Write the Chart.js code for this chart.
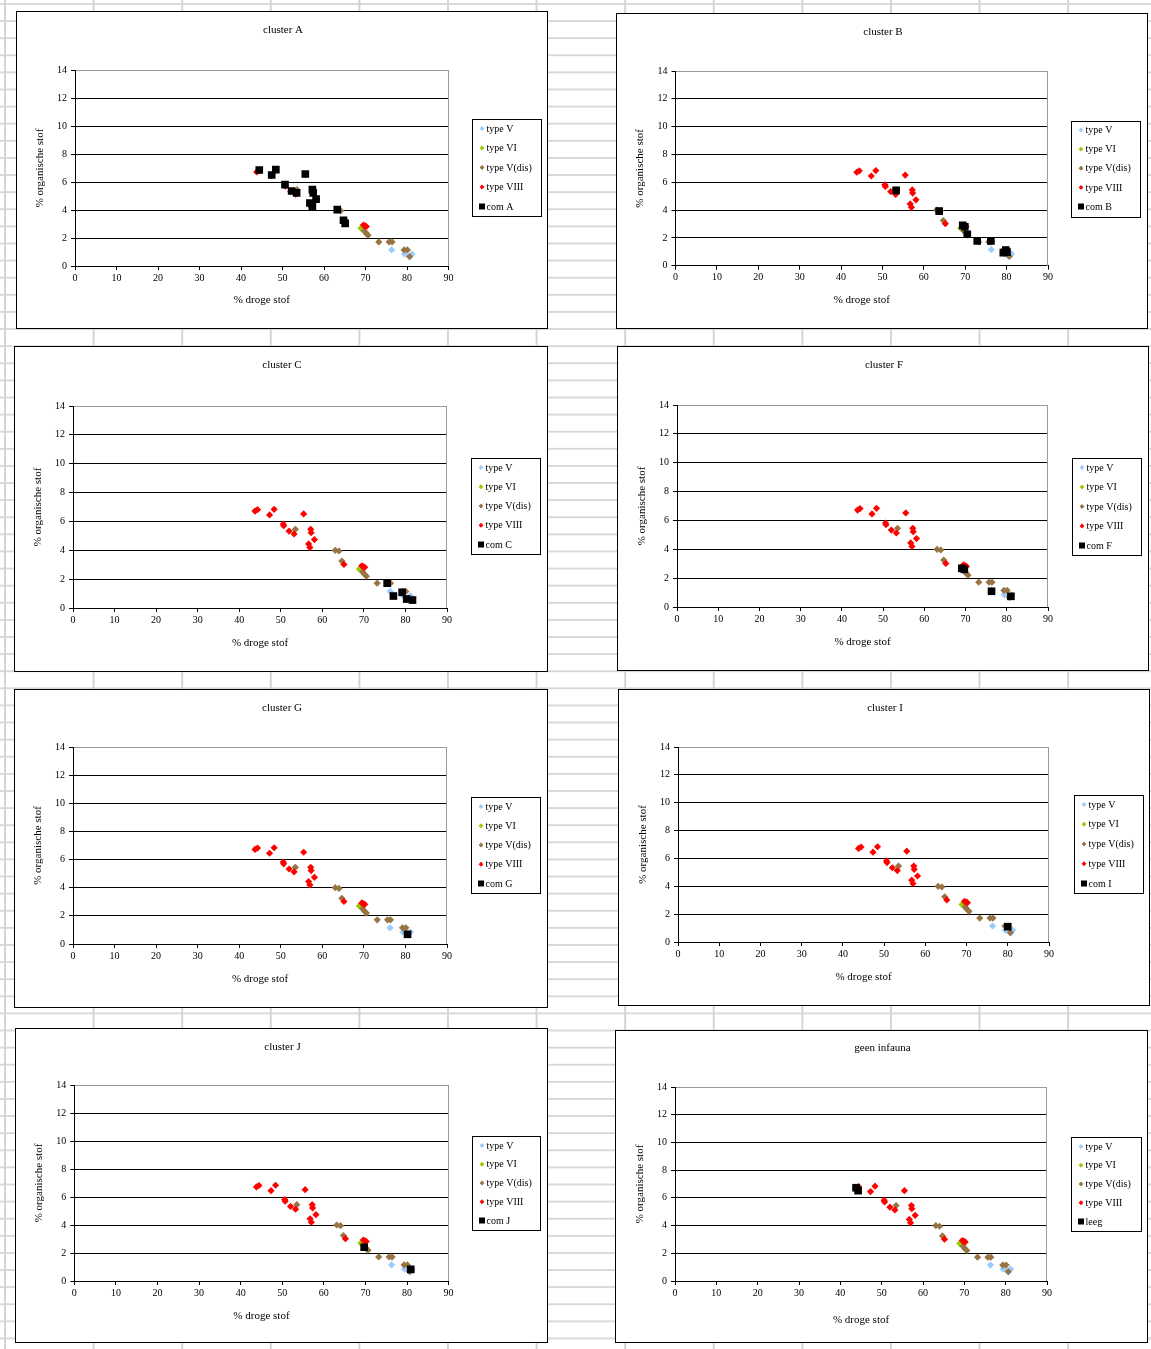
<!DOCTYPE html>
<html><head><meta charset="utf-8">
<script src="https://cdn.jsdelivr.net/npm/chart.js@4.4.1/dist/chart.umd.min.js"></script>
<style>
html,body{margin:0;padding:0;}
body{width:1151px;height:1349px;position:relative;overflow:hidden;background-color:#fff;
background-image:linear-gradient(to right,#d4d4d4 0,#d4d4d4 2px,transparent 2px),linear-gradient(to bottom,#d8d8d8 0,#d8d8d8 1.5px,transparent 1.5px);
background-size:88.6px 100%,100% 17.12px;background-position:4px 0,0 3px;}
canvas{position:absolute;}
</style></head><body>
<script>
// ---- data ----
const xTicks = [0, 10, 20, 30, 40, 50, 60, 70, 80, 90];
const yTicks = [0, 2, 4, 6, 8, 10, 12, 14];
const xTitle = '% droge stof';
const yTitle = '% organische stof';
const seriesNames = ['type V', 'type VI', 'type V(dis)', 'type VIII'];

const typeV = [[76.3,1.15],[79.4,0.85],[80.7,0.65],[81.2,0.85]];
const typeVI = [[68.9,2.7]];
const typeVdis = [[53.5,5.45],[63.1,4.0],[64.0,3.95],[64.7,3.25],[69.7,2.5],[70.1,2.35],[70.6,2.2],[73.2,1.72],[75.7,1.72],[76.4,1.72],[79.3,1.15],[80.1,1.15],[80.6,0.68]];
const typeVIII = [[43.8,6.72],[44.4,6.82],[47.3,6.45],[48.4,6.84],[50.6,5.82],[50.7,5.7],[52.0,5.33],[53.2,5.13],[55.5,6.52],[57.2,5.45],[57.3,5.22],[58.1,4.74],[56.7,4.44],[57.0,4.2],[65.2,3.02],[69.5,2.92],[69.9,2.86],[70.2,2.82]];

const panelTitles = ['cluster A','cluster B','cluster C','cluster F','cluster G','cluster I','cluster J','geen infauna'];
const comLabels = ['com A','com B','com C','com F','com G','com I','com J','leeg'];
const comA = [[44.4,6.86],[48.4,6.88],[47.4,6.5],[55.5,6.57],[50.6,5.81],[52.2,5.36],[53.4,5.22],[57.2,5.46],[57.4,5.22],[58.1,4.78],[56.6,4.5],[57.2,4.27],[63.2,4.03],[64.7,3.27],[65.1,3.04]];
const comB = [[53.3,5.42],[63.7,3.92],[69.4,2.9],[69.9,2.8],[70.5,2.26],[72.9,1.78],[76.2,1.78],[79.2,0.94],[79.8,1.13],[80.1,0.98]];
const comC = [[75.6,1.72],[79.2,1.09],[77.1,0.83],[80.3,0.62],[81.7,0.55]];
const comF = [[69.1,2.68],[69.7,2.61],[76.3,1.09],[81.0,0.74]];
const comG = [[80.5,0.69]];
const comI = [[80.0,1.1]];
const comJ = [[69.7,2.41],[80.9,0.83]];
const leeg = [[43.8,6.73],[44.3,6.52]];
const comSeries = [comA, comB, comC, comF, comG, comI, comJ, leeg];

// ---- layout (page pixels) ----
const frames = [
 {L:16,T:11,R:547,B:328, pL:75,pT:70,pR:448.5,pB:266, lg:[472,119,541,216], tY:30, xtY:300},
 {L:616,T:13,R:1147,B:328, pL:675.5,pT:71,pR:1048,pB:265.7, lg:[1071,120.5,1140,216], tY:32, xtY:300},
 {L:14,T:346,R:547,B:671, pL:73,pT:406,pR:447,pB:608, lg:[471,458,540,554], tY:365, xtY:643},
 {L:617,T:346,R:1148,B:670, pL:677,pT:405,pR:1048,pB:607, lg:[1072,458,1141,555], tY:365, xtY:642},
 {L:14,T:689,R:547,B:1007, pL:73,pT:747,pR:447,pB:944, lg:[471,797,540,893], tY:708, xtY:979},
 {L:618,T:689,R:1149,B:1005, pL:678,pT:747,pR:1049,pB:942, lg:[1074,795,1143,893], tY:708, xtY:977},
 {L:15,T:1028,R:547,B:1342, pL:74.3,pT:1085,pR:448.6,pB:1281, lg:[472,1136,540,1230], tY:1047, xtY:1316},
 {L:615,T:1030,R:1147,B:1342, pL:675,pT:1087,pR:1047,pB:1281, lg:[1071,1137,1141,1231], tY:1048, xtY:1320}
];

const styles = [
 {color:'#99ccff', style:'rectRot', r:3.6, order:4},
 {color:'#99cc00', style:'rectRot', r:3.6, order:3},
 {color:'#977443', style:'rectRot', r:3.6, order:2},
 {color:'#ff0000', style:'rectRot', r:3.6, order:1},
 {color:'#000000', style:'rect', r:5.4, order:0}
];
const FONT = 'Liberation Serif';
Chart.defaults.font.family = FONT;
Chart.defaults.font.size = 10;
Chart.defaults.color = '#000';

const toPts = arr => arr.map(p => ({x:p[0], y:p[1]}));

frames.forEach((f, i) => {
  const W = f.R - f.L + 1, H = f.B - f.T + 1;
  const cv = document.createElement('canvas');
  cv.width = W; cv.height = H;
  cv.style.left = f.L + 'px'; cv.style.top = f.T + 'px';
  cv.style.width = W + 'px'; cv.style.height = H + 'px';
  document.body.appendChild(cv);

  const seriesData = [typeV, typeVI, typeVdis, typeVIII, comSeries[i]];
  const labels = seriesNames.concat([comLabels[i]]);
  const datasets = seriesData.map((d, k) => ({
    label: labels[k],
    data: toPts(d),
    order: styles[k].order,
    pointStyle: styles[k].style,
    pointRadius: styles[k].r,
    pointHoverRadius: styles[k].r,
    pointBackgroundColor: styles[k].color,
    pointBorderColor: styles[k].color,
    pointBorderWidth: 0,
    backgroundColor: styles[k].color,
    borderColor: styles[k].color,
    showLine: false
  }));

  const yTitleCenter = (f.pL - 35) - f.L;
  const xTitleCenter = f.xtY - f.T;

  const framePlugin = {
    id: 'frame' + i,
    beforeDraw(chart) {
      const c = chart.ctx;
      c.save();
      c.fillStyle = '#fff';
      c.fillRect(0, 0, W, H);
      c.restore();
    },
    afterDraw(chart) {
      const c = chart.ctx, a = chart.chartArea;
      c.save();
      // chart title
      c.fillStyle = '#000';
      c.font = '11px "' + FONT + '"';
      c.textAlign = 'center'; c.textBaseline = 'middle';
      c.fillText(panelTitles[i], W / 2 + 1, f.tY - f.T);
      // plot area right border
      c.strokeStyle = '#9a9a9a'; c.lineWidth = 1;
      const rx = Math.round(a.right) - 0.5;
      c.beginPath(); c.moveTo(rx, Math.round(a.top)); c.lineTo(rx, Math.round(a.bottom)); c.stroke();
      // outer chart frame
      c.strokeStyle = '#000'; c.lineWidth = 1;
      c.strokeRect(0.5, 0.5, W - 1, H - 1);
      // legend
      const lx = f.lg[0] - f.L, ly = f.lg[1] - f.T, lw = f.lg[2] - f.lg[0], lh = f.lg[3] - f.lg[1];
      c.fillStyle = '#fff'; c.fillRect(lx, ly, lw, lh);
      c.strokeStyle = '#000'; c.strokeRect(Math.round(lx) + 0.5, Math.round(ly) + 0.5, Math.round(lw), Math.round(lh));
      const n = chart.data.datasets.length;
      const step = (lh - 19) / (n - 1);
      c.font = '10px "' + FONT + '"';
      c.textBaseline = 'middle'; c.textAlign = 'left';
      chart.data.datasets.forEach((ds, k) => {
        const ey = ly + 9.5 + k * step;
        const mx = lx + 10;
        c.fillStyle = ds.pointBackgroundColor;
        if (ds.pointStyle === 'rect') {
          c.fillRect(mx - 3, ey - 3, 6, 6);
        } else {
          c.beginPath();
          c.moveTo(mx, ey - 2.4); c.lineTo(mx + 2.4, ey); c.lineTo(mx, ey + 2.4); c.lineTo(mx - 2.4, ey); c.closePath();
          c.fill();
        }
        c.fillStyle = '#000';
        c.fillText(ds.label, lx + 14.5, ey + 0.5);
      });
      c.restore();
    }
  };

  new Chart(cv, {
    type: 'scatter',
    data: { datasets },
    options: {
      responsive: false,
      animation: false,
      devicePixelRatio: 1,
      events: [],
      layout: { padding: { left: 0, top: f.pT - f.T, bottom: 0, right: W - (f.pR - f.L) } },
      plugins: {
        legend: { display: false },
        tooltip: { enabled: false },
        title: { display: false }
      },
      scales: {
        x: {
          type: 'linear',
          position: 'bottom',
          min: xTicks[0], max: xTicks[xTicks.length - 1],
          afterBuildTicks: s => { s.ticks = xTicks.map(v => ({ value: v })); },
          afterFit: s => { s.height = H - (f.pB - f.T); },
          ticks: { color: '#000', font: { family: FONT, size: 10 }, padding: 2, maxRotation: 0, autoSkip: false },
          grid: { display: true, drawOnChartArea: false, drawTicks: true, tickLength: 4, tickColor: '#000', color: '#000' },
          border: { display: true, color: '#000', width: 1 },
          title: {
            display: true, text: xTitle, color: '#000',
            font: { family: FONT, size: 11, lineHeight: 1.2 },
            padding: { top: 0, bottom: (H - xTitleCenter) - 6.6 }
          }
        },
        y: {
          type: 'linear',
          position: 'left',
          min: yTicks[0], max: yTicks[yTicks.length - 1],
          afterBuildTicks: s => { s.ticks = yTicks.map(v => ({ value: v })); },
          afterFit: s => { s.width = f.pL - f.L; },
          ticks: { color: '#000', font: { family: FONT, size: 10 }, padding: 4, autoSkip: false },
          grid: {
            display: true, drawOnChartArea: true, drawTicks: true, tickLength: 4, tickColor: '#000',
            color: c => (c.tick && c.tick.value === yTicks[yTicks.length - 1]) ? '#9a9a9a' : '#000',
            lineWidth: 1
          },
          border: { display: true, color: '#000', width: 1 },
          title: {
            display: true, text: yTitle, color: '#000',
            font: { family: FONT, size: 11, lineHeight: 1.2 },
            padding: { top: yTitleCenter - 6.6, bottom: 0 }
          }
        }
      }
    },
    plugins: [framePlugin]
  });
});
</script>
</body></html>
